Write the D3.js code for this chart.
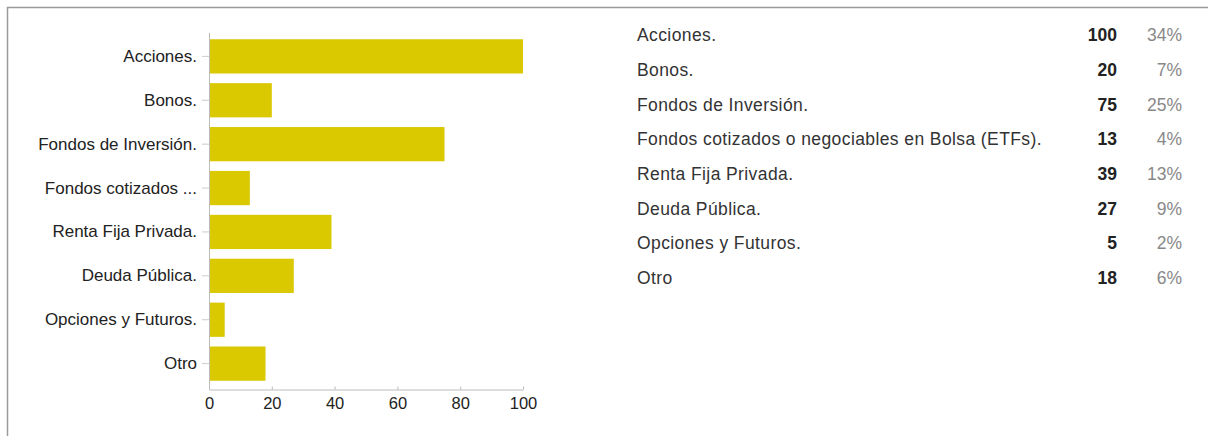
<!DOCTYPE html>
<html>
<head>
<meta charset="utf-8">
<script src="https://cdn.jsdelivr.net/npm/d3@7"></script>
<style>
  body { margin: 0; background: #fff; }
  svg { display: block; font-family: "Liberation Sans", Arial, sans-serif; }
</style>
</head>
<body>
<div id="chart"></div>
<script>
// categories as shown on the axis and in the table
const axisLabels = ['Acciones.', 'Bonos.', 'Fondos de Inversión.', 'Fondos cotizados ...',
  'Renta Fija Privada.', 'Deuda Pública.', 'Opciones y Futuros.', 'Otro'];
const tableLabels = ['Acciones.', 'Bonos.', 'Fondos de Inversión.',
  'Fondos cotizados o negociables en Bolsa (ETFs).', 'Renta Fija Privada.',
  'Deuda Pública.', 'Opciones y Futuros.', 'Otro'];
const counts = [100, 20, 75, 13, 39, 27, 5, 18];
const percents = ['34%', '7%', '25%', '4%', '13%', '9%', '2%', '6%'];
const xTicks = [0, 20, 40, 60, 80, 100];

const W = 1208, H = 436;
const svg = d3.select('#chart').append('svg')
  .attr('width', W).attr('height', H);

// frame
svg.append('path')
  .attr('d', `M7.5,${H} V7.5 H${W}`)
  .attr('fill', 'none')
  .attr('stroke', '#9a9a9a')
  .attr('stroke-width', 1.5);

// bar chart
const x = d3.scaleLinear().domain([0, 100]).range([209, 523]);
const y = d3.scaleBand().domain(axisLabels).range([34, 386]).paddingInner(0.22).paddingOuter(0.12);

const g = svg.append('g');

g.selectAll('rect.bar')
  .data(counts)
  .enter().append('rect')
  .attr('class', 'bar')
  .attr('x', x(0))
  .attr('y', (d, i) => y(axisLabels[i]))
  .attr('width', d => x(d) - x(0))
  .attr('height', y.bandwidth())
  .attr('fill', '#dac800');

// y axis
const yAxis = g.append('g')
  .attr('transform', `translate(${x(0)},0)`)
  .call(d3.axisLeft(y).tickSize(7).tickPadding(5));
yAxis.select('.domain').attr('stroke', '#bbb').attr('d', `M0.5,33V389.5`);
yAxis.selectAll('.tick line').attr('stroke', '#ccc');
yAxis.selectAll('.tick text')
  .attr('font-size', 17)
  .attr('fill', '#222')
  .attr('font-family', '"Liberation Sans", Arial, sans-serif');

// x axis
const xAxis = g.append('g')
  .attr('transform', 'translate(0,389.5)')
  .call(d3.axisBottom(x).tickValues(xTicks).tickSize(0).tickPadding(8));
xAxis.select('.domain').attr('stroke', '#bbb');
xAxis.selectAll('.tick line').attr('y2', -3).attr('stroke', '#bbb');
xAxis.selectAll('.tick text')
  .attr('font-size', 16.5)
  .attr('fill', '#222')
  .attr('font-family', '"Liberation Sans", Arial, sans-serif');

// table
const rowY = d3.scalePoint().domain(d3.range(tableLabels.length)).range([35, 278]);
const table = svg.append('g').attr('font-size', 17.5);

table.selectAll('text.lab')
  .data(tableLabels)
  .enter().append('text')
  .attr('class', 'lab')
  .attr('x', 637)
  .attr('y', (d, i) => rowY(i))
  .attr('dy', '0.35em')
  .attr('letter-spacing', 0.4)
  .attr('fill', '#333')
  .text(d => d);

table.selectAll('text.cnt')
  .data(counts)
  .enter().append('text')
  .attr('class', 'cnt')
  .attr('x', 1117)
  .attr('y', (d, i) => rowY(i))
  .attr('dy', '0.35em')
  .attr('text-anchor', 'end')
  .attr('font-weight', 'bold')
  .attr('fill', '#222')
  .text(d => d);

table.selectAll('text.pct')
  .data(percents)
  .enter().append('text')
  .attr('class', 'pct')
  .attr('x', 1182)
  .attr('y', (d, i) => rowY(i))
  .attr('dy', '0.35em')
  .attr('text-anchor', 'end')
  .attr('fill', '#888')
  .text(d => d);
</script>
</body>
</html>
